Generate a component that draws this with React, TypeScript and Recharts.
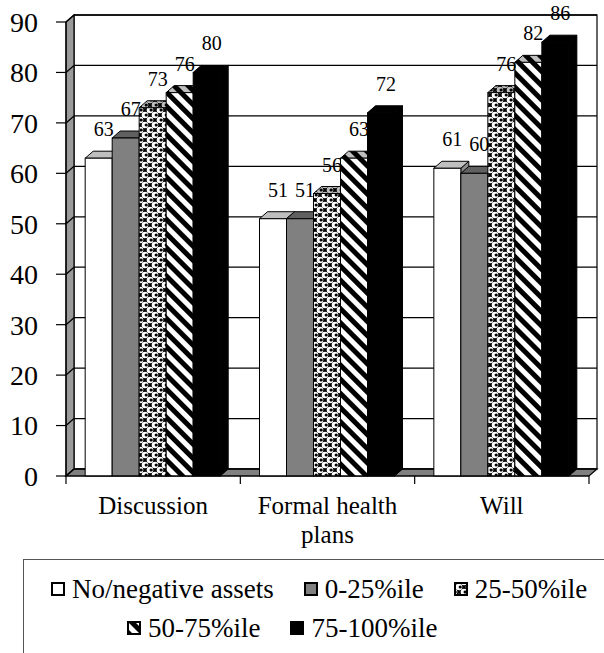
import React from 'react';
import { BarChart, Bar, XAxis, YAxis, CartesianGrid, LabelList, Legend } from 'recharts';

// Planning activity by asset percentile (%)
const categories = ['Discussion', 'Formal health plans', 'Will'];
const seriesNames = ['No/negative assets', '0-25%ile', '25-50%ile', '50-75%ile', '75-100%ile'];
const noAssets = [63, 51, 61];
const pct0to25 = [67, 51, 60];
const pct25to50 = [73, 56, 76];
const pct50to75 = [76, 63, 82];
const pct75to100 = [80, 72, 86];
const yTicks = [0, 10, 20, 30, 40, 50, 60, 70, 80, 90];

const seriesValues = [noAssets, pct0to25, pct25to50, pct50to75, pct75to100];
const seriesKeys = ['s0', 's1', 's2', 's3', 's4'];
const seriesFills = ['#ffffff', '#808080', 'url(#dots2550)', 'url(#stripes5075)', '#000000'];

const data = categories.map((category, i) => {
  const row: Record<string, string | number> = { category };
  seriesKeys.forEach((k, j) => {
    row[k] = seriesValues[j][i];
  });
  return row;
});

const SERIF = "'Liberation Serif', 'Times New Roman', serif";

// chart geometry
const CHART_W = 604;
const CHART_H = 653;
const MARGIN = { top: 22, right: 15, left: 0, bottom: 97 };
const Y_AXIS_W = 66;
const PLOT_W = CHART_W - MARGIN.left - MARGIN.right - Y_AXIS_W;
const BAND = PLOT_W / categories.length;

// depth offset of the pseudo-3D walls and bars
const DX = 8;
const DY = 7;

const Bar3D = (props: any) => {
  const { x, y, width: w, height: h, fill } = props;
  if (w == null || h == null || isNaN(x) || isNaN(y)) return <g />;
  const top = `${x},${y} ${x + DX},${y - DY} ${x + w + DX},${y - DY} ${x + w},${y}`;
  const side = `${x + w},${y} ${x + w + DX},${y - DY} ${x + w + DX},${y + h - DY} ${x + w},${y + h}`;
  return (
    <g>
      <polygon points={side} fill={fill} />
      <polygon points={side} fill="rgba(0,0,0,0.45)" stroke="#000" strokeWidth={1} strokeLinejoin="round" />
      <polygon points={top} fill={fill} />
      <polygon points={top} fill="rgba(0,0,0,0.25)" stroke="#000" strokeWidth={1} strokeLinejoin="round" />
      <rect x={x} y={y} width={w} height={h} fill={fill} stroke="#000" strokeWidth={1} />
    </g>
  );
};

const BarValueLabel = (props: any) => {
  const { x, y, width, value } = props;
  return (
    <text x={x + width / 2 + 5} y={y - 22} textAnchor="middle" fontFamily={SERIF} fontSize={20} fill="#000">
      {value}
    </text>
  );
};

// left wall, floor, back wall outline and category boundary ticks
const Walls = (p: any) => {
  if (p.index !== 0) return <g key={p.key} />;
  const left = p.x1;
  const right = p.x2;
  const top = p.y;
  const bottom = p.y + p.height;
  const step = (right - left) / categories.length;
  const bounds = Array.from({ length: categories.length + 1 }, (_, i) => left + i * step);
  return (
    <g key={p.key}>
      <rect x={left + DX} y={top - DY} width={right - left} height={bottom - top} fill="#fff" stroke="#000" strokeWidth={1.2} />
      <polygon
        points={`${left},${bottom} ${left},${top} ${left + DX},${top - DY} ${left + DX},${bottom - DY}`}
        fill="#9a9a9a"
        stroke="#000"
        strokeWidth={1.2}
      />
      <polygon
        points={`${left},${bottom} ${right},${bottom} ${right + DX},${bottom - DY} ${left + DX},${bottom - DY}`}
        fill="#808080"
        stroke="#000"
        strokeWidth={1.2}
      />
      {bounds.map((bx, i) => (
        <line key={i} x1={bx} y1={bottom} x2={bx} y2={bottom + 8} stroke="#000" strokeWidth={1.2} />
      ))}
    </g>
  );
};

// gridline on the back wall, joined to the front axis across the left wall
const BackGridLine = (p: any) => (
  <g key={p.key}>
    <line x1={p.x1} y1={p.y1} x2={p.x1 + DX} y2={p.y1 - DY} stroke="#000" strokeWidth={1.3} />
    <line x1={p.x1 + DX} y1={p.y1 - DY} x2={p.x2 + DX} y2={p.y2 - DY} stroke="#000" strokeWidth={1.3} />
  </g>
);

const CAT_FONT_SIZE = 25;
const CAT_LINE_H = 29;

let measureCtx: CanvasRenderingContext2D | null = null;
const textWidth = (s: string) => {
  if (!measureCtx) measureCtx = document.createElement('canvas').getContext('2d');
  if (!measureCtx) return s.length * CAT_FONT_SIZE * 0.45;
  measureCtx.font = `${CAT_FONT_SIZE}px ${SERIF}`;
  return measureCtx.measureText(s).width;
};

// greedy word wrap into the width of one category band
const wrapLabel = (label: string, maxWidth: number) => {
  const lines: string[] = [];
  let line = '';
  label.split(' ').forEach((word) => {
    const next = line ? `${line} ${word}` : word;
    if (line && textWidth(next) > maxWidth) {
      lines.push(line);
      line = word;
    } else {
      line = next;
    }
  });
  if (line) lines.push(line);
  return lines;
};

const CategoryTick = (p: any) => {
  const { x, y, payload } = p;
  const lines = wrapLabel(String(payload.value), BAND - 20);
  return (
    <text x={x} y={y} textAnchor="middle" fontFamily={SERIF} fontSize={CAT_FONT_SIZE} fill="#000">
      {lines.map((ln, i) => (
        <tspan key={i} x={x} dy={i === 0 ? '0.71em' : CAT_LINE_H}>
          {ln}
        </tspan>
      ))}
    </text>
  );
};

const LegendIcon = ({ fill }: { fill: string }) => (
  <svg width={14} height={14} style={{ display: 'block', marginRight: 7, flex: 'none' }}>
    <rect x={1} y={1} width={12} height={12} fill={fill} stroke="#000" strokeWidth={2} />
  </svg>
);

const legendRows = [
  { items: [0, 1, 2], top: 14, left: 27 },
  { items: [3, 4], top: 53, left: 103 },
];

const LegendBox = () => (
  <div
    style={{
      position: 'relative',
      width: 600,
      height: 110,
      border: '1.5px solid #555',
      boxSizing: 'border-box',
      fontFamily: SERIF,
      fontSize: 27,
      color: '#000',
    }}
  >
    {legendRows.map((row, r) => (
      <div
        key={r}
        style={{
          position: 'absolute',
          top: row.top,
          left: row.left,
          display: 'flex',
          alignItems: 'center',
          columnGap: 30,
          lineHeight: '30px',
          whiteSpace: 'nowrap',
        }}
      >
        {row.items.map((i) => (
          <div key={i} style={{ display: 'flex', alignItems: 'center' }}>
            <LegendIcon fill={seriesFills[i]} />
            <span>{seriesNames[i]}</span>
          </div>
        ))}
      </div>
    ))}
  </div>
);

const PatternDefs = () => (
  <svg width={0} height={0} style={{ position: 'absolute' }}>
    <defs>
      <pattern id="dots2550" width={10} height={10} patternUnits="userSpaceOnUse">
        <rect width={10} height={10} fill="#000" />
        {[
          [0, 0],
          [10, 0],
          [0, 10],
          [10, 10],
          [5, 5],
        ].map(([cx, cy], i) => (
          <g key={i}>
            <circle cx={cx} cy={cy} r={3.3} fill="#fff" />
            <circle cx={cx + 1.2} cy={cy} r={1.6} fill="#000" />
          </g>
        ))}
      </pattern>
      <pattern id="stripes5075" width={10} height={10} patternUnits="userSpaceOnUse" patternTransform="rotate(-45)">
        <rect width={10} height={10} fill="#fff" />
        <rect width={5} height={10} fill="#000" />
      </pattern>
    </defs>
  </svg>
);

export default function App() {
  return (
    <div
      style={{
        position: 'absolute',
        left: 0,
        top: 0,
        width: CHART_W,
        height: CHART_H,
        overflow: 'hidden',
        background: '#fff',
      }}
    >
      <PatternDefs />
      <BarChart width={CHART_W} height={CHART_H} data={data} margin={MARGIN} barCategoryGap="11%" barGap={0}>
        <CartesianGrid vertical={false} horizontal={Walls} />
        <CartesianGrid vertical={false} horizontal={BackGridLine} />
        <XAxis
          dataKey="category"
          height={80}
          interval={0}
          tickLine={false}
          tickSize={8}
          tickMargin={12}
          axisLine={{ stroke: '#000', strokeWidth: 1.2 }}
          tick={CategoryTick}
        />
        <YAxis
          domain={[0, 90]}
          ticks={yTicks}
          interval={0}
          width={Y_AXIS_W}
          tickSize={10}
          tickMargin={18}
          axisLine={{ stroke: '#000', strokeWidth: 1.2 }}
          tickLine={{ stroke: '#000', strokeWidth: 1.2 }}
          tick={{ fontFamily: SERIF, fontSize: 28, fill: '#000' }}
        />
        <Legend
          layout="horizontal"
          verticalAlign="middle"
          align="center"
          wrapperStyle={{ left: 23, top: 559, width: 600, height: 110 }}
          content={() => <LegendBox />}
        />
        {seriesKeys.map((k, i) => (
          <Bar key={k} dataKey={k} name={seriesNames[i]} fill={seriesFills[i]} shape={Bar3D} isAnimationActive={false}>
            <LabelList dataKey={k} content={BarValueLabel} />
          </Bar>
        ))}
      </BarChart>
    </div>
  );
}
